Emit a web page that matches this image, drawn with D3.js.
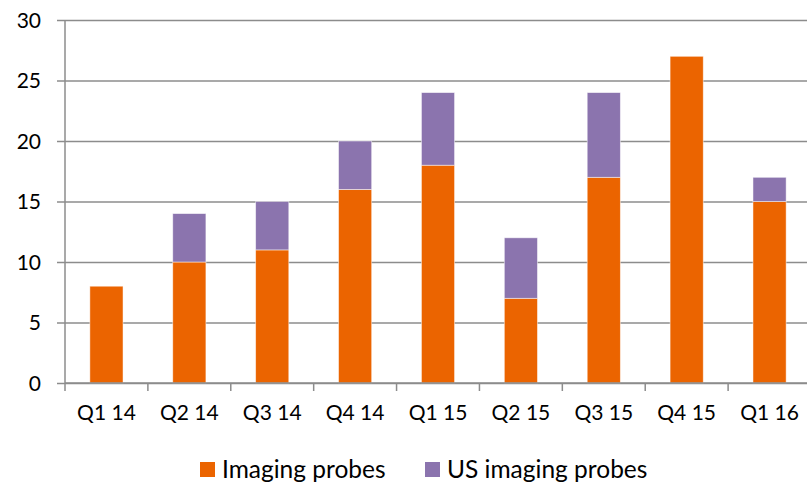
<!DOCTYPE html>
<html>
<head>
<meta charset="utf-8">
<script src="https://cdn.jsdelivr.net/npm/d3@7"></script>
<style>
  body { margin: 0; background: #fff; }
  text { font-family: Lato, "Open Sans", sans-serif; fill: #000; }
</style>
</head>
<body>
<div id="chart"></div>
<script>
// Data
const quarters = ["Q1 14", "Q2 14", "Q3 14", "Q4 14", "Q1 15", "Q2 15", "Q3 15", "Q4 15", "Q1 16"];
const imagingProbes = [8, 10, 11, 16, 18, 7, 17, 27, 15];
const usImagingProbes = [0, 4, 4, 4, 6, 5, 7, 0, 2];
const seriesNames = ["Imaging probes", "US imaging probes"];
const yTicks = [0, 5, 10, 15, 20, 25, 30];

const colours = ["#EB6400", "#8B74AE"];
const gridColour = "#8c8c8c";

const width = 807;
const height = 487;
const margin = {top: 20, right: -4, bottom: 104, left: 65};
const innerWidth = width - margin.left - margin.right;
const innerHeight = height - margin.top - margin.bottom;

const svg = d3.select("#chart")
  .append("svg")
    .attr("width", width)
    .attr("height", height);

const innerChart = svg.append("g")
  .attr("transform", `translate(${margin.left}, ${margin.top})`);

// Scales
const xScale = d3.scaleBand()
  .domain(quarters)
  .range([0, innerWidth])
  .paddingInner(0.6)
  .paddingOuter(0.3);

const yScale = d3.scaleLinear()
  .domain([0, 30])
  .range([innerHeight, 0]);

// Gridlines + left axis
const leftAxis = d3.axisLeft(yScale)
  .tickValues(yTicks)
  .tickSize(-innerWidth - 8)
  .tickPadding(16);
const yAxisG = innerChart.append("g")
  .attr("class", "axis-y")
  .attr("transform", "translate(-8, 0)")
  .call(leftAxis);
yAxisG.select(".domain").remove();
yAxisG.selectAll(".tick line")
  .attr("stroke", gridColour)
  .attr("stroke-width", 1.5);
yAxisG.selectAll(".tick text")
  .attr("font-size", 21)
  .attr("dy", "0.35em");

// Vertical axis line
innerChart.append("line")
  .attr("x1", 0).attr("x2", 0)
  .attr("y1", 0).attr("y2", innerHeight)
  .attr("stroke", gridColour)
  .attr("stroke-width", 1.5);

// Stacked bars
const stackData = quarters.map((q, i) => ({
  quarter: q,
  [seriesNames[0]]: imagingProbes[i],
  [seriesNames[1]]: usImagingProbes[i]
}));
const stacked = d3.stack().keys(seriesNames)(stackData);

innerChart.selectAll("g.series")
  .data(stacked)
  .join("g")
    .attr("class", "series")
    .attr("fill", (d, i) => colours[i])
  .selectAll("rect")
  .data(d => d.filter(s => s[1] > s[0]))
  .join("rect")
    .attr("x", d => xScale(d.data.quarter))
    .attr("y", d => yScale(d[1]))
    .attr("width", xScale.bandwidth())
    .attr("height", d => yScale(d[0]) - yScale(d[1]))
    .attr("stroke", "#fff")
    .attr("stroke-opacity", 0.6)
    .attr("stroke-width", 0.8);

// Bottom axis
const bandStep = xScale.step();
const bottomAxis = d3.axisBottom(xScale).tickSize(0).tickPadding(22);
const xAxisG = innerChart.append("g")
  .attr("class", "axis-x")
  .attr("transform", `translate(0, ${innerHeight})`)
  .call(bottomAxis);
xAxisG.select(".domain").remove();
xAxisG.selectAll(".tick text").attr("font-size", 21);

innerChart.append("line")
  .attr("x1", 0).attr("x2", innerWidth)
  .attr("y1", innerHeight).attr("y2", innerHeight)
  .attr("stroke", gridColour)
  .attr("stroke-width", 1.5);

// Category separators
innerChart.selectAll(".sep")
  .data(d3.range(quarters.length + 1))
  .join("line")
    .attr("class", "sep")
    .attr("x1", i => i * bandStep)
    .attr("x2", i => i * bandStep)
    .attr("y1", innerHeight)
    .attr("y2", innerHeight + 8)
    .attr("stroke", gridColour)
    .attr("stroke-width", 1.5);

// Legend
const legendX = [200, 425];
const legend = svg.append("g").attr("class", "legend");
seriesNames.forEach((name, i) => {
  legend.append("rect")
    .attr("x", legendX[i])
    .attr("y", 462)
    .attr("width", 15)
    .attr("height", 15)
    .attr("fill", colours[i]);
  legend.append("text")
    .attr("x", legendX[i] + 22)
    .attr("y", 478)
    .attr("font-size", 24.5)
    .text(name);
});
</script>
</body>
</html>
